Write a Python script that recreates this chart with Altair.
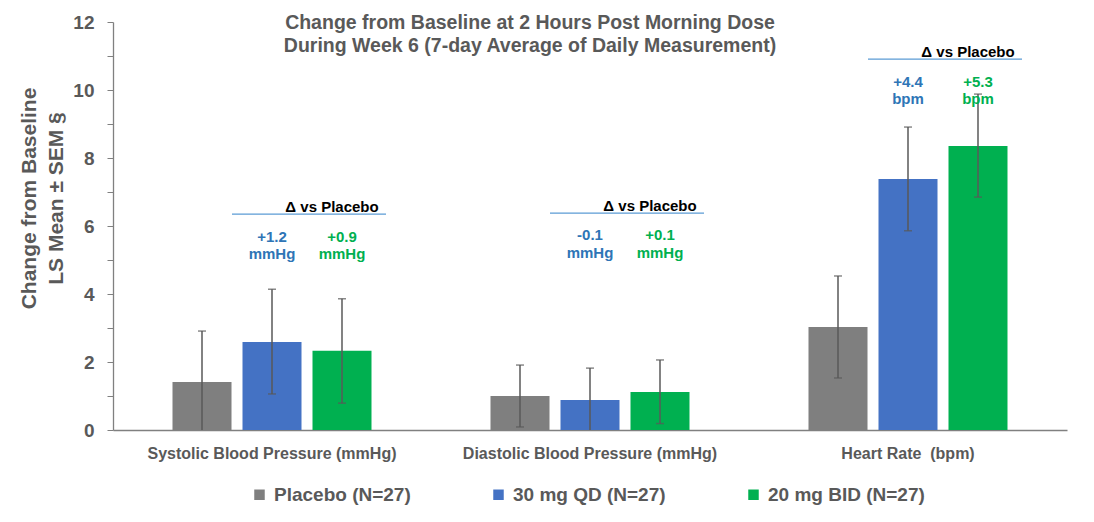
import altair as alt
import pandas as pd

# ---------------- data ----------------
groups = ["Systolic Blood Pressure (mmHg)", "Diastolic Blood Pressure (mmHg)", "Heart Rate\u00a0 (bpm)"]
series = ["Placebo (N=27)", "30 mg QD (N=27)", "20 mg BID (N=27)"]
colors = ["#7F7F7F", "#4472C4", "#00B050"]

placebo_mean = [1.41, 1.00, 3.03]
placebo_lo = [-0.09, 0.09, 1.53]
placebo_hi = [2.91, 1.91, 4.53]
qd_mean = [2.59, 0.88, 7.38]
qd_lo = [1.06, -0.06, 5.86]
qd_hi = [4.14, 1.82, 8.91]
bid_mean = [2.33, 1.12, 8.35]
bid_lo = [0.79, 0.19, 6.85]
bid_hi = [3.86, 2.06, 9.88]

delta_qd = ["+1.2", "-0.1", "+4.4"]
delta_bid = ["+0.9", "+0.1", "+5.3"]
delta_unit = ["mmHg", "mmHg", "bpm"]

# annotation anchor heights (data units)
label_y = [6.56, 6.59, 11.12]
underline_y = [6.35, 6.38, 10.91]
value_y = [5.68, 5.74, 10.24]
unit_y = [5.18, 5.21, 9.74]

TEXT_BLUE = "#2E75B6"
TEXT_GREEN = "#00B050"
GRAY = "#595959"
FONT = "Liberation Sans"

# ---------------- tables ----------------
rows = []
for i, g in enumerate(groups):
    for s, m, lo, hi in zip(series,
                            [placebo_mean[i], qd_mean[i], bid_mean[i]],
                            [placebo_lo[i], qd_lo[i], bid_lo[i]],
                            [placebo_hi[i], qd_hi[i], bid_hi[i]]):
        rows.append({"group": g, "series": s, "mean": m, "lo": lo, "hi": hi})
df = pd.DataFrame(rows)

ann_rows = []
for i, g in enumerate(groups):
    ann_rows.append({"group": g, "series": series[1], "y": value_y[i], "text": delta_qd[i], "tcolor": TEXT_BLUE})
    ann_rows.append({"group": g, "series": series[1], "y": unit_y[i], "text": delta_unit[i], "tcolor": TEXT_BLUE})
    ann_rows.append({"group": g, "series": series[2], "y": value_y[i], "text": delta_bid[i], "tcolor": TEXT_GREEN})
    ann_rows.append({"group": g, "series": series[2], "y": unit_y[i], "text": delta_unit[i], "tcolor": TEXT_GREEN})
df_ann = pd.DataFrame(ann_rows)

df_lab = pd.DataFrame({"group": groups, "series": [series[2]] * 3, "y": label_y,
                       "uy": underline_y})

# ---------------- encodings ----------------
x_axis = alt.Axis(title=None, labelAngle=0, ticks=False, labelFont=FONT, labelFontSize=16,
                  labelFontWeight="bold", labelColor=GRAY, labelPadding=15,
                  domainColor="#808080", domainWidth=1.3, labelLimit=400)
x_enc = alt.X("group:N", sort=groups, scale=alt.Scale(paddingInner=0, paddingOuter=0), axis=x_axis)
xoff = alt.XOffset("series:N", sort=series, scale=alt.Scale(domain=series, paddingInner=0.157, paddingOuter=0.85))

y_scale = alt.Scale(domain=[0, 12], nice=False)
y_axis = alt.Axis(values=list(range(13)),
                  labelExpr="datum.value % 2 == 0 ? datum.label : ''",
                  tickSize=6, tickColor="#808080", domainColor="#808080", domainWidth=1.3,
                  grid=False, labelFont=FONT, labelFontSize=19, labelFontWeight="bold",
                  labelColor=GRAY, labelPadding=13,
                  title=["Change from Baseline", "LS Mean \u00b1 SEM \u00a7"],
                  titleFont=FONT, titleFontSize=21, titleFontWeight="bold", titleColor=GRAY,
                  titleLineHeight=27, titleX=-95, titleY=176, titleAngle=270,
                  titleAlign="center", titleBaseline="top")

bars = alt.Chart(df).mark_bar(size=59).encode(
    x=x_enc,
    xOffset=xoff,
    y=alt.Y("mean:Q", scale=y_scale, axis=y_axis),
    color=alt.Color("series:N", sort=series, scale=alt.Scale(domain=series, range=colors),
                    legend=alt.Legend(title=None, orient="none", legendX=137, legendY=463,
                                      direction="horizontal", symbolType="square",
                                      symbolSize=110, symbolStrokeWidth=0,
                                      labelFont=FONT, labelFontSize=19, labelFontWeight="bold",
                                      labelColor=GRAY, columnPadding=78, labelOffset=5)),
)

err = alt.Chart(df).mark_rule(color=GRAY, strokeWidth=1.5, clip=True).encode(
    x=x_enc, xOffset=xoff,
    y=alt.Y("lo:Q", scale=y_scale, axis=y_axis), y2="hi:Q")

cap_hi = alt.Chart(df).mark_tick(color=GRAY, size=8, thickness=1.5, clip=True).encode(
    x=x_enc, xOffset=xoff, y=alt.Y("hi:Q", scale=y_scale, axis=y_axis))
cap_lo = alt.Chart(df).mark_tick(color=GRAY, size=8, thickness=1.5, clip=True).encode(
    x=x_enc, xOffset=xoff, y=alt.Y("lo:Q", scale=y_scale, axis=y_axis))

ann = alt.Chart(df_ann).mark_text(font=FONT, fontSize=15, fontWeight="bold", baseline="middle").encode(
    x=x_enc, xOffset=xoff,
    y=alt.Y("y:Q", scale=y_scale, axis=y_axis),
    text="text:N",
    color=alt.Color("tcolor:N", scale=None))

lab = alt.Chart(df_lab).mark_text(font=FONT, fontSize=15, fontWeight="bold", baseline="middle",
                                   color="#000000", dx=-10, text="\u0394 vs Placebo").encode(
    x=x_enc, xOffset=xoff, y=alt.Y("y:Q", scale=y_scale, axis=y_axis))

uline = alt.Chart(df_lab).mark_rule(color="#5B9BD5", strokeWidth=1.2, xOffset=-40, x2Offset=114).encode(
    x=x_enc, x2="group:N", y=alt.Y("uy:Q", scale=y_scale, axis=y_axis))

chart = alt.layer(bars, err, cap_hi, cap_lo, uline, lab, ann).properties(
    width=954, height=408,
    title=alt.Title(["Change from Baseline at 2 Hours Post Morning Dose",
                     "During Week 6 (7-day Average of Daily Measurement)"],
                    font=FONT, fontSize=19.5, fontWeight="bold", color=GRAY,
                    anchor="middle", dx=-60, offset=-43, lineHeight=23),
    autosize=alt.AutoSizeParams(type="none"),
    padding={"left": 105, "top": 14, "right": 10, "bottom": 90},
).configure_view(stroke=None)

chart.save("out.html", embed_options={"renderer": "svg", "actions": False})
